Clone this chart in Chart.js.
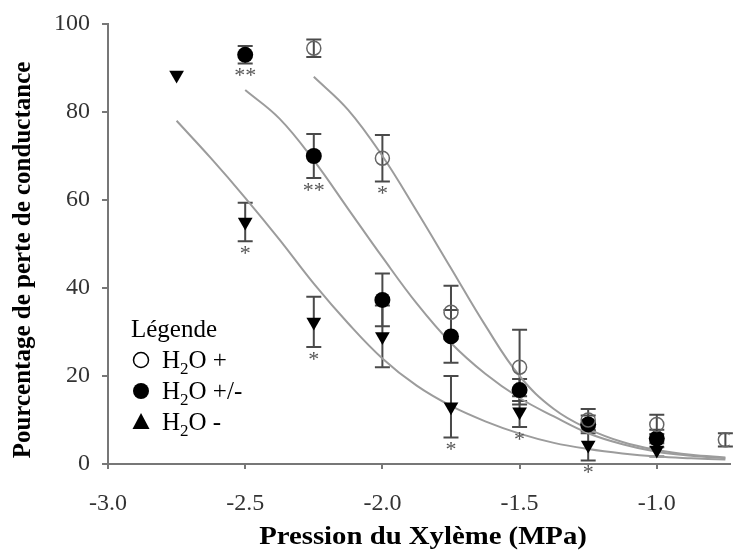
<!DOCTYPE html>
<html>
<head>
<meta charset="utf-8">
<script src="https://cdn.jsdelivr.net/npm/chart.js@4.4.0/dist/chart.umd.min.js"></script>
<style>
  body { margin: 0; background: #fff; }
</style>
</head>
<body>
<canvas id="vulnChart" width="738" height="551"></canvas>
<script>
// axis ticks
var xTickValues = [-3.0, -2.5, -2.0, -1.5, -1.0];
var yTickValues = [0, 20, 40, 60, 80, 100];

// H2O + (open circles)
var plusX = [-2.25, -2.0, -1.75, -1.5, -1.25, -1.0, -0.75];
var plusY = [94.5, 69.5, 34.5, 22, 10, 9, 5.5];
var plusErr = [2, 5.3, 6, 8.5, 2.5, 2.2, 1.5];
var plusStars = ['', '*', '', '', '', '', ''];

// H2O +/- (filled circles)
var midX = [-2.5, -2.25, -2.0, -1.75, -1.5, -1.25, -1.0];
var midY = [93, 70, 37.3, 29, 16.8, 9, 5.8];
var midErr = [2, 5, 6, 6, 2.5, 2, 2];
var midStars = ['**', '**', '', '', '', '', ''];

// H2O - (triangles)
var minusX = [-2.75, -2.5, -2.25, -2.0, -1.75, -1.5, -1.25, -1.0];
var minusY = [88.4, 55, 32.3, 29, 13, 11.9, 4.3, 3.2];
var minusErr = [0, 4.4, 5.7, 7, 7, 3.5, 3.5, 1.5];
var minusStars = ['', '*', '*', '', '*', '*', '*', ''];

// fitted curves
var fitPlusX = [-2.25, -2.125, -2.0, -1.875, -1.75, -1.625, -1.5, -1.375, -1.25, -1.125, -1.0, -0.875, -0.75];
var fitPlusY = [88, 80.5, 70, 57.5, 44.5, 31.5, 20, 12.5, 8, 5, 3.2, 2.1, 1.5];
var fitMidX = [-2.5, -2.375, -2.25, -2.125, -2.0, -1.875, -1.75, -1.625, -1.5, -1.375, -1.25, -1.125, -1.0, -0.875, -0.75];
var fitMidY = [85, 78.5, 69, 58, 47, 36.5, 27.5, 20.5, 15, 10.8, 7, 4.5, 2.8, 1.9, 1.3];
var fitMinusX = [-2.75, -2.625, -2.5, -2.375, -2.25, -2.125, -2.0, -1.875, -1.75, -1.625, -1.5, -1.375, -1.25, -1.125, -1.0, -0.875, -0.75];
var fitMinusY = [78, 69.5, 60.5, 51, 41, 32, 24, 17.8, 13.2, 9.7, 6.9, 4.8, 3.4, 2.4, 1.7, 1.3, 1.0];

function pts(xs, ys) {
  return xs.map(function (x, i) { return { x: x, y: ys[i] }; });
}

var serif = "'Liberation Serif', 'Times New Roman', serif";
var groups = [
  { x: plusX, y: plusY, err: plusErr, stars: plusStars },
  { x: midX, y: midY, err: midErr, stars: midStars },
  { x: minusX, y: minusY, err: minusErr, stars: minusStars }
];

var errorBars = {
  id: 'errorBars',
  beforeDatasetsDraw: function (chart) {
    var ctx = chart.ctx, sx = chart.scales.x, sy = chart.scales.y;
    ctx.save();
    ctx.strokeStyle = '#4a4a4a';
    ctx.lineWidth = 2;
    groups.forEach(function (g) {
      for (var i = 0; i < g.x.length; i++) {
        if (!g.err[i]) continue;
        var px = sx.getPixelForValue(g.x[i]);
        var top = sy.getPixelForValue(g.y[i] + g.err[i]);
        var bot = sy.getPixelForValue(g.y[i] - g.err[i]);
        ctx.beginPath();
        ctx.moveTo(px, top); ctx.lineTo(px, bot);
        ctx.moveTo(px - 7.5, top); ctx.lineTo(px + 7.5, top);
        ctx.moveTo(px - 7.5, bot); ctx.lineTo(px + 7.5, bot);
        ctx.stroke();
      }
    });
    ctx.restore();
  },
  afterDatasetsDraw: function (chart) {
    var ctx = chart.ctx, sx = chart.scales.x, sy = chart.scales.y;
    ctx.save();
    ctx.fillStyle = '#555';
    ctx.font = '22px ' + serif;
    ctx.textAlign = 'center';
    ctx.textBaseline = 'top';
    groups.forEach(function (g) {
      for (var i = 0; i < g.x.length; i++) {
        if (!g.stars[i]) continue;
        var px = sx.getPixelForValue(g.x[i]);
        var bot = sy.getPixelForValue(g.y[i] - g.err[i]);
        ctx.fillText(g.stars[i], px, bot + 2);
      }
    });
    ctx.restore();
  }
};

var legendBox = {
  id: 'legendBox',
  afterDraw: function (chart) {
    var ctx = chart.ctx;
    ctx.save();
    ctx.fillStyle = '#000';
    ctx.textBaseline = 'alphabetic';
    ctx.textAlign = 'left';
    ctx.font = '25px ' + serif;
    ctx.fillText('Légende', 131, 337);
    var rows = [
      { y: 368, label: ' +' },
      { y: 399, label: ' +/-' },
      { y: 430, label: ' -' }
    ];
    rows.forEach(function (r, i) {
      var cx = 141, cy = r.y - 8;
      ctx.beginPath();
      if (i === 0) {
        ctx.arc(cx, cy, 7.5, 0, Math.PI * 2);
        ctx.lineWidth = 1.5; ctx.strokeStyle = '#000'; ctx.stroke();
      } else if (i === 1) {
        ctx.arc(cx, cy, 8, 0, Math.PI * 2);
        ctx.fill();
      } else {
        ctx.moveTo(cx, cy - 9); ctx.lineTo(cx + 8.5, cy + 7); ctx.lineTo(cx - 8.5, cy + 7);
        ctx.closePath(); ctx.fill();
      }
      var x = 162;
      ctx.font = '25px ' + serif;
      ctx.fillText('H', x, r.y);
      x += ctx.measureText('H').width;
      ctx.font = '17px ' + serif;
      ctx.fillText('2', x, r.y + 6);
      x += ctx.measureText('2').width;
      ctx.font = '25px ' + serif;
      ctx.fillText('O' + r.label, x, r.y);
    });

    // axis titles (the source figure is stretched horizontally)
    ctx.font = 'bold 25px ' + serif;
    ctx.textAlign = 'center';
    ctx.textBaseline = 'middle';
    ctx.save();
    ctx.translate(423, 538);
    ctx.scale(1.15, 1);
    ctx.fillText('Pression du Xylème (MPa)', 0, 0);
    ctx.restore();
    ctx.save();
    ctx.translate(24, 260);
    ctx.rotate(-Math.PI / 2);
    ctx.fillText('Pourcentage de perte de conductance', 0, 0);
    ctx.restore();
    ctx.restore();
  }
};

var fitStyle = {
  type: 'line', showLine: true, borderColor: '#9c9c9c', borderWidth: 2,
  pointRadius: 0, tension: 0.4
};

var ctx = document.getElementById('vulnChart');
var chart = new Chart(ctx, {
  type: 'scatter',
  data: {
    datasets: [
      {
        label: 'H2O +',
        data: pts(plusX, plusY),
        pointStyle: 'circle',
        pointRadius: 7,
        backgroundColor: 'rgba(255,255,255,0)',
        borderColor: '#666',
        borderWidth: 1.5
      },
      {
        label: 'H2O +/-',
        data: pts(midX, midY),
        pointStyle: 'circle',
        pointRadius: 8,
        backgroundColor: '#000',
        borderColor: '#000',
        borderWidth: 0
      },
      {
        label: 'H2O -',
        data: pts(minusX, minusY),
        pointStyle: 'triangle',
        rotation: 180,
        pointRadius: 8.5,
        backgroundColor: '#000',
        borderColor: '#000',
        borderWidth: 0
      },
      Object.assign({ data: pts(fitPlusX, fitPlusY) }, fitStyle),
      Object.assign({ data: pts(fitMidX, fitMidY) }, fitStyle),
      Object.assign({ data: pts(fitMinusX, fitMinusY) }, fitStyle)
    ]
  },
  options: {
    responsive: false,
    animation: false,
    layout: { padding: { top: 24, right: 0, left: 0, bottom: 0 } },
    plugins: {
      legend: { display: false },
      tooltip: { enabled: false }
    },
    scales: {
      x: {
        type: 'linear',
        min: -3.0,
        max: -0.735,
        afterFit: function (scale) { scale.height = 87; },
        afterBuildTicks: function (scale) {
          scale.ticks = xTickValues.map(function (v) { return { value: v }; });
        },
        border: { display: true, color: '#777', width: 2 },
        grid: { display: true, drawOnChartArea: false, drawTicks: true, tickLength: 5, color: '#777', lineWidth: 2 },
        ticks: {
          color: '#333',
          font: { family: serif, size: 24 },
          padding: 20,
          maxRotation: 0,
          callback: function (v) { return v.toFixed(1); }
        }
      },
      y: {
        type: 'linear',
        min: 0,
        max: 100,
        afterFit: function (scale) { scale.width = 108; },
        afterBuildTicks: function (scale) {
          scale.ticks = yTickValues.map(function (v) { return { value: v }; });
        },
        border: { display: true, color: '#777', width: 2 },
        grid: { display: true, drawOnChartArea: false, drawTicks: true, tickLength: 6, color: '#777', lineWidth: 2 },
        ticks: {
          color: '#333',
          font: { family: serif, size: 24, lineHeight: 1 },
          padding: 12
        }
      }
    }
  },
  plugins: [errorBars, legendBox]
});
</script>
</body>
</html>
